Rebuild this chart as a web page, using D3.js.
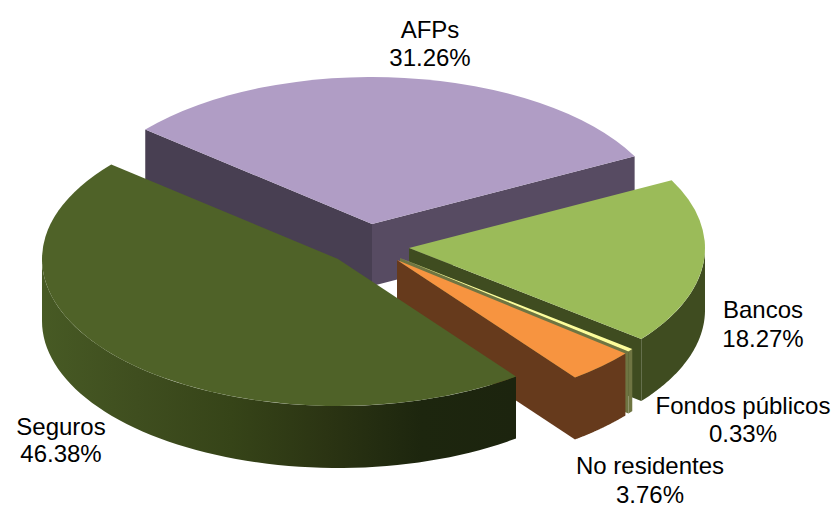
<!DOCTYPE html>
<html>
<head>
<meta charset="utf-8">
<script src="https://cdnjs.cloudflare.com/ajax/libs/d3/7.8.5/d3.min.js"></script>
<style>
  html, body { margin: 0; padding: 0; background: #fff; }
  svg { display: block; }
  text { font-family: "Liberation Sans", Arial, sans-serif; font-size: 24px; fill: #000; }
</style>
</head>
<body>
<div id="pie"></div>
<script>
// data
var categories = ["AFPs", "Bancos", "Fondos públicos", "No residentes", "Seguros"];
var shares = [31.26, 18.27, 0.33, 3.76, 46.38];

var svgWidth = 837;
var svgHeight = 509;

// ellipse of the tilted pie and height of the extruded side
var rx = 296;
var ry = 147;
var depth = 62;
var firstAngle = -50 * Math.PI / 180;

// exploded slices, each has its own tip on the page
var tips = [[372, 224], [409, 248], [400, 258], [397, 260], [338, 259]];
var topColors = ["#b09dc5", "#9bbb59", "#fdfd9c", "#f79440", "#4f6228"];
var leftWall = ["#483f52", "#3f4c20", "#6f7542", "#663a1c", "#3f4c20"];
var rightWall = ["#574b62", "#3f4c20", "#6f7542", "#663a1c", "#3f4c20"];
var outerStops = [
  ["#574b62", "#574b62"],
  ["#3f4c20", "#3f4c20"],
  ["#6f7542", "#6f7542"],
  ["#663a1c", "#663a1c"],
  ["#475a24", "#3f4e1f", "#364418", "#2b3413", "#1d260e", "#1c240e"]
];

var labelPos = [[430, 38, 66], [763, 318, 347], [743, 414, 442], [650, 474, 503], [61, 435, 462]];

var svg = d3.select("#pie")
  .append("svg")
  .attr("width", svgWidth)
  .attr("height", svgHeight);

var defs = svg.append("defs");

var pie = d3.pie()
  .sort(null)
  .startAngle(firstAngle)
  .endAngle(firstAngle + 2 * Math.PI);

var slices = pie(shares);

var arc = d3.arc().innerRadius(0).outerRadius(rx);
var line = d3.line();

// point on the rim, angle measured clockwise from the top
function rim(tip, a, dy) {
  return [tip[0] + rx * Math.sin(a), tip[1] - ry * Math.cos(a) + dy];
}

function sideWall(tip, a) {
  return line([tip, rim(tip, a, 0), rim(tip, a, depth), [tip[0], tip[1] + depth]]) + "Z";
}

function outerWall(tip, a0, a1) {
  var n = 60;
  var upper = d3.range(n + 1).map(function(i) { return rim(tip, a0 + (a1 - a0) * i / n, 0); });
  var lower = upper.slice().reverse().map(function(p) { return [p[0], p[1] + depth]; });
  return line(upper.concat(lower)) + "Z";
}

slices.forEach(function(d, i) {
  var tip = tips[i];
  var g = svg.append("g").attr("class", "slice");

  // flat cut faces, only those turned to the viewer
  if (Math.sin(d.startAngle) < 0) {
    g.append("path").attr("d", sideWall(tip, d.startAngle)).attr("fill", leftWall[i]);
  }
  if (Math.sin(d.endAngle) > 0) {
    g.append("path").attr("d", sideWall(tip, d.endAngle)).attr("fill", rightWall[i]);
  }

  // rim, front half of the ellipse only
  var a0 = Math.max(d.startAngle, Math.PI / 2);
  var a1 = Math.min(d.endAngle, 3 * Math.PI / 2);
  if (a1 > a0) {
    var x0 = rim(tip, a0, 0)[0];
    var x1 = rim(tip, a1, 0)[0];
    var grad = defs.append("linearGradient")
      .attr("id", "rim" + i)
      .attr("gradientUnits", "userSpaceOnUse")
      .attr("x1", Math.min(x0, x1))
      .attr("x2", Math.max(x0, x1))
      .attr("y1", 0)
      .attr("y2", 0);
    outerStops[i].forEach(function(c, k) {
      grad.append("stop")
        .attr("offset", k / (outerStops[i].length - 1))
        .attr("stop-color", c);
    });
    g.append("path").attr("d", outerWall(tip, a0, a1)).attr("fill", "url(#rim" + i + ")");
  }

  // top face: a normal d3 arc squashed to the ellipse
  g.append("path")
    .attr("d", arc(d))
    .attr("transform", `translate(${tip[0]}, ${tip[1]}) scale(1, ${ry / rx})`)
    .attr("fill", topColors[i]);
});

// labels
categories.forEach(function(c, i) {
  svg.append("text")
    .attr("x", labelPos[i][0])
    .attr("y", labelPos[i][1])
    .attr("text-anchor", "middle")
    .text(c);
  svg.append("text")
    .attr("x", labelPos[i][0])
    .attr("y", labelPos[i][2])
    .attr("text-anchor", "middle")
    .text(shares[i].toFixed(2) + "%");
});
</script>
</body>
</html>
